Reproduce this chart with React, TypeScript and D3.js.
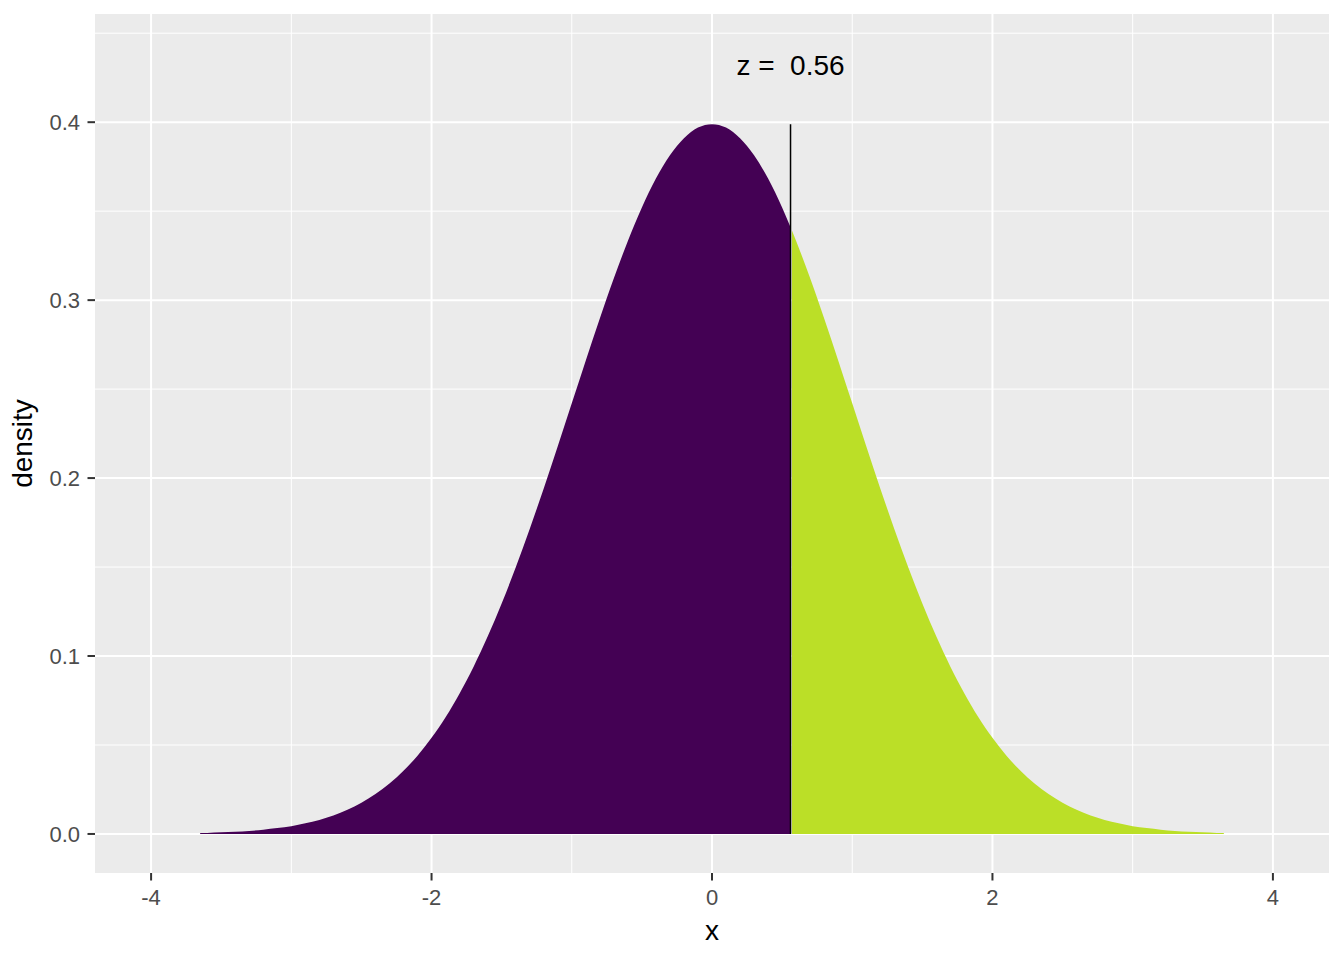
import React from "react";
import * as d3 from "d3";

const leftX = [-3.65, -3.6, -3.5, -3.4, -3.3, -3.2, -3.1, -3.0, -2.9, -2.8, -2.7, -2.6, -2.5, -2.4, -2.3, -2.2, -2.1, -2.0, -1.9, -1.8, -1.7, -1.6, -1.5, -1.4, -1.3, -1.2, -1.1, -1.0, -0.9, -0.8, -0.7, -0.6, -0.5, -0.4, -0.3, -0.2, -0.1, 0.0, 0.1, 0.2, 0.3, 0.4, 0.5, 0.56];
const leftDensity = [0.0005, 0.0006, 0.0009, 0.0012, 0.0017, 0.0024, 0.0033, 0.0044, 0.006, 0.0079, 0.0104, 0.0136, 0.0175, 0.0224, 0.0283, 0.0355, 0.044, 0.054, 0.0656, 0.079, 0.094, 0.1109, 0.1295, 0.1497, 0.1714, 0.1942, 0.2179, 0.242, 0.2661, 0.2897, 0.3123, 0.3332, 0.3521, 0.3683, 0.3814, 0.391, 0.397, 0.3989, 0.397, 0.391, 0.3814, 0.3683, 0.3521, 0.341];
const rightX = [0.57, 0.6, 0.7, 0.8, 0.9, 1.0, 1.1, 1.2, 1.3, 1.4, 1.5, 1.6, 1.7, 1.8, 1.9, 2.0, 2.1, 2.2, 2.3, 2.4, 2.5, 2.6, 2.7, 2.8, 2.9, 3.0, 3.1, 3.2, 3.3, 3.4, 3.5, 3.6, 3.65];
const rightDensity = [0.3391, 0.3332, 0.3123, 0.2897, 0.2661, 0.242, 0.2179, 0.1942, 0.1714, 0.1497, 0.1295, 0.1109, 0.094, 0.079, 0.0656, 0.054, 0.044, 0.0355, 0.0283, 0.0224, 0.0175, 0.0136, 0.0104, 0.0079, 0.006, 0.0044, 0.0033, 0.0024, 0.0017, 0.0012, 0.0009, 0.0006, 0.0005];

const zValue = 0.56;
const peakDensity = 0.3989;
const labelText = "z =  0.56";
const xMajor = [-4, -2, 0, 2, 4];
const xMinor = [-3, -1, 1, 3];
const yMajor = [0, 0.1, 0.2, 0.3, 0.4];
const yMinor = [0.05, 0.15, 0.25, 0.35, 0.45];

const W = 1344, H = 960;
const P = { left: 95, right: 1329, top: 14, bottom: 873 };
const FONT = "'Liberation Sans', Arial, sans-serif";

export default function App() {
  const x = d3.scaleLinear().domain([-4.4, 4.4]).range([P.left, P.right]);
  const y = d3.scaleLinear().domain([-0.02194, 0.4608]).range([P.bottom, P.top]);

  const area = d3
    .area<[number, number]>()
    .x((d) => x(d[0]))
    .y0(y(0))
    .y1((d) => y(d[1]))
    .curve(d3.curveMonotoneX);

  const leftData = leftX.map((v, i) => [v, leftDensity[i]] as [number, number]);
  const rightData = rightX.map((v, i) => [v, rightDensity[i]] as [number, number]);

  return (
    <svg width={W} height={H} style={{ position: "absolute", left: 0, top: 0 }}>
      <rect x={0} y={0} width={W} height={H} fill="#ffffff" />
      <rect x={P.left} y={P.top} width={P.right - P.left} height={P.bottom - P.top} fill="#EBEBEB" />
      {xMinor.map((v) => (
        <line key={"xm" + v} x1={x(v)} x2={x(v)} y1={P.top} y2={P.bottom} stroke="#fff" strokeWidth={1} />
      ))}
      {yMinor.map((v) => (
        <line key={"ym" + v} x1={P.left} x2={P.right} y1={y(v)} y2={y(v)} stroke="#fff" strokeWidth={1} />
      ))}
      {xMajor.map((v) => (
        <line key={"xM" + v} x1={x(v)} x2={x(v)} y1={P.top} y2={P.bottom} stroke="#fff" strokeWidth={2} />
      ))}
      {yMajor.map((v) => (
        <line key={"yM" + v} x1={P.left} x2={P.right} y1={y(v)} y2={y(v)} stroke="#fff" strokeWidth={2} />
      ))}
      <path d={area(leftData) || ""} fill="#440154" />
      <path d={area(rightData) || ""} fill="#BBDF27" />
      <line x1={x(zValue)} x2={x(zValue)} y1={y(0)} y2={y(peakDensity)} stroke="#000" strokeWidth={1.5} />
      <text
        x={x(zValue)}
        y={75}
        textAnchor="middle"
        fontFamily={FONT}
        fontSize={28}
        fill="#000"
        style={{ whiteSpace: "pre" }}
      >
        {labelText}
      </text>
      {/* x axis */}
      {xMajor.map((v) => (
        <g key={"xt" + v}>
          <line x1={x(v)} x2={x(v)} y1={P.bottom} y2={P.bottom + 7.5} stroke="#333" strokeWidth={2} />
          <text x={x(v)} y={905} textAnchor="middle" fontFamily={FONT} fontSize={22} fill="#4D4D4D">
            {v}
          </text>
        </g>
      ))}
      {/* y axis */}
      {yMajor.map((v) => (
        <g key={"yt" + v}>
          <line x1={P.left - 7.5} x2={P.left} y1={y(v)} y2={y(v)} stroke="#333" strokeWidth={2} />
          <text x={80} y={y(v) + 8} textAnchor="end" fontFamily={FONT} fontSize={22} fill="#4D4D4D">
            {v.toFixed(1)}
          </text>
        </g>
      ))}
      <text x={(P.left + P.right) / 2} y={940} textAnchor="middle" fontFamily={FONT} fontSize={28} fill="#000">
        x
      </text>
      <text
        transform={`translate(32, ${(P.top + P.bottom) / 2}) rotate(-90)`}
        textAnchor="middle"
        fontFamily={FONT}
        fontSize={28}
        fill="#000"
      >
        density
      </text>
    </svg>
  );
}
